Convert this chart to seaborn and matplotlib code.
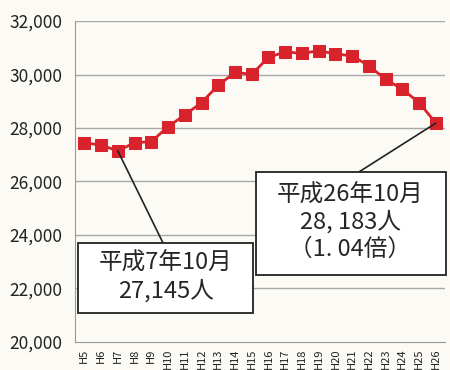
import matplotlib
matplotlib.use("Agg")
import matplotlib.pyplot as plt
from matplotlib.patches import Rectangle
import seaborn as sns
import pandas as pd

# ===== データ =====
years = ["H5", "H6", "H7", "H8", "H9", "H10", "H11", "H12", "H13", "H14", "H15",
         "H16", "H17", "H18", "H19", "H20", "H21", "H22", "H23", "H24", "H25", "H26"]
people = [27450, 27360, 27145, 27450, 27490, 28050, 28490, 28950, 29600, 30080, 30010,
          30640, 30850, 30790, 30890, 30770, 30700, 30330, 29820, 29450, 28950, 28183]
yticks = [20000, 22000, 24000, 26000, 28000, 30000, 32000]
note_h7 = "平成7年10月\n27,145人"
note_h26 = "平成26年10月\n28, 183人\n（1. 04倍）"

df = pd.DataFrame({"idx": range(len(years)), "year": years, "people": people})

sns.set_style("white")
plt.rcParams['font.family'] = ['Noto Sans CJK JP', 'DejaVu Sans']

fig = plt.figure(figsize=(4.5, 3.7), dpi=100)
fig.patch.set_facecolor("#fbfaf4")
ax = fig.add_axes([0.167, 0.076, 0.822, 0.867])
ax.set_facecolor("#fbfaf4")

red = "#d8232c"
sns.lineplot(data=df, x="idx", y="people", ax=ax, color=red, linewidth=2,
             marker="s", markersize=8, markeredgecolor=red, zorder=3)

ax.set_ylim(20000, 32000)
ax.set_xlim(-0.55, len(years) - 0.45)
ax.set_yticks(yticks)
ax.set_yticklabels([f"{v:,}" for v in yticks], fontsize=12.5, color="#222222")
ax.set_xticks(range(len(years)))
ax.set_xticklabels(years, rotation=90, fontsize=8, color="#222222")
ax.tick_params(axis="x", length=3, color="#999999", pad=2)
ax.tick_params(axis="y", length=3, color="#999999", pad=6)
ax.set_xlabel("")
ax.set_ylabel("")

for v in yticks[1:]:
    ax.axhline(v, color="#a8a8a8", linewidth=1, zorder=1)

for s in ["top", "right"]:
    ax.spines[s].set_visible(False)
ax.spines["left"].set_color("#999999")
ax.spines["bottom"].set_color("#999999")

# 注記ボックス（枠 + 文字 + 引き出し線）
line_kw = dict(color="#222222", linewidth=1.2, zorder=4)
box_kw = dict(facecolor="white", edgecolor="#222222", linewidth=1.3, zorder=5, clip_on=False)

# H7
ax.plot([2, 4.7], [people[2], 23700], **line_kw)
ax.add_patch(Rectangle((-0.36, 21084), 10.41, 2616, **box_kw))
ax.text(4.85, 22430, note_h7, ha="center", va="center", fontsize=17,
        linespacing=1.22, zorder=6)

# H26
ax.plot([21, 16.4], [people[21], 26355], **line_kw)
ax.add_patch(Rectangle((10.23, 22505), 11.37, 3850, **box_kw))
ax.text(15.9, 24480, note_h26, ha="center", va="center", fontsize=17,
        linespacing=1.22, zorder=6)

fig.savefig("out.png", dpi=100, facecolor=fig.get_facecolor())
